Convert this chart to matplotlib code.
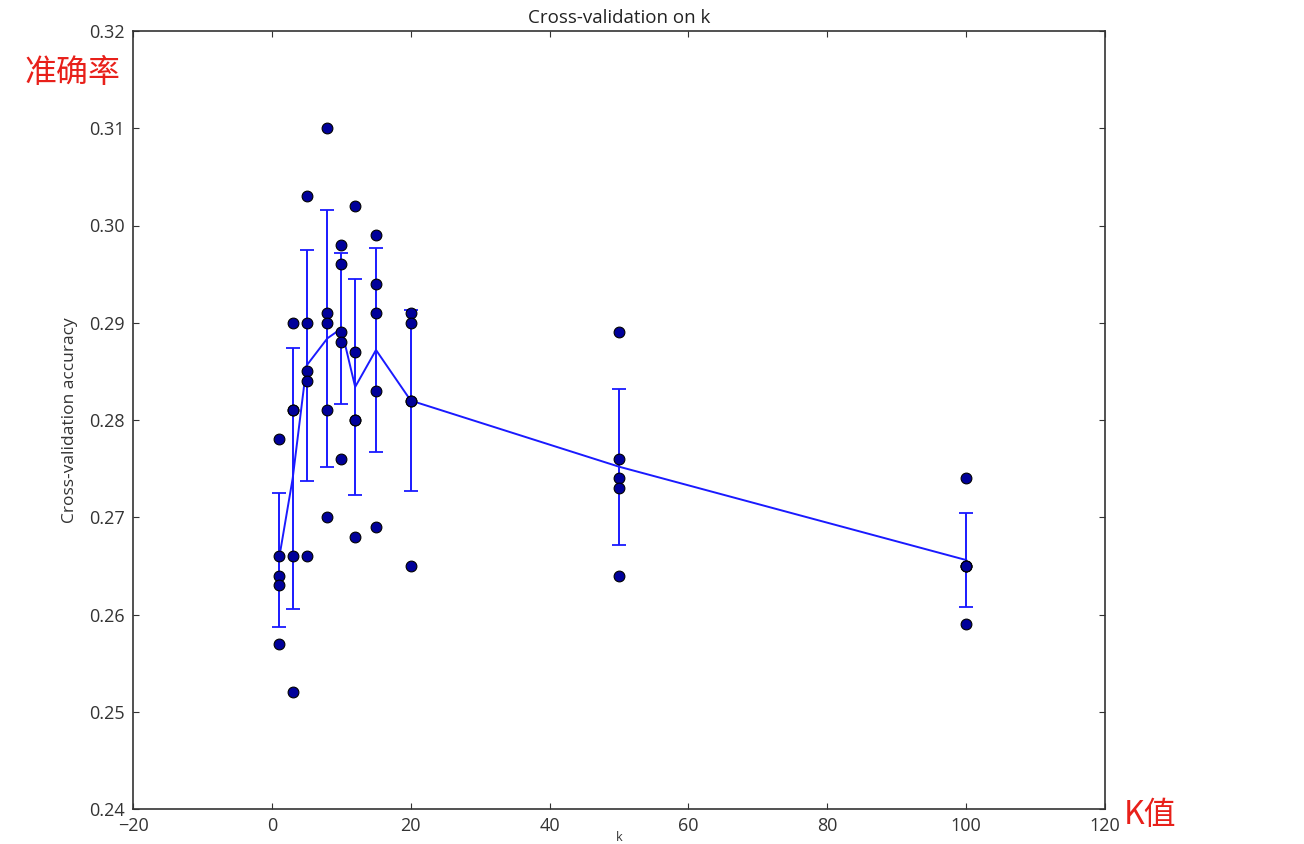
import numpy as np
import matplotlib
matplotlib.use("Agg")
import matplotlib.pyplot as plt

k_choices = [1, 3, 5, 8, 10, 12, 15, 20, 50, 100]
fold_accuracies = {
    1: [0.278, 0.266, 0.264, 0.263, 0.257],
    3: [0.290, 0.281, 0.281, 0.266, 0.252],
    5: [0.303, 0.290, 0.285, 0.284, 0.266],
    8: [0.310, 0.291, 0.290, 0.281, 0.270],
    10: [0.298, 0.296, 0.289, 0.288, 0.276],
    12: [0.302, 0.287, 0.280, 0.280, 0.268],
    15: [0.299, 0.294, 0.291, 0.283, 0.269],
    20: [0.291, 0.290, 0.282, 0.282, 0.265],
    50: [0.289, 0.276, 0.274, 0.273, 0.264],
    100: [0.274, 0.265, 0.265, 0.265, 0.259],
}
x_ticks = [-20, 0, 20, 40, 60, 80, 100, 120]
y_ticks = [0.24, 0.25, 0.26, 0.27, 0.28, 0.29, 0.30, 0.31, 0.32]

plt.rcParams['font.family'] = ['Open Sans', 'DejaVu Sans']
fig = plt.figure(figsize=(13.04, 8.44), dpi=100)
ax = fig.add_axes([133/1304, 35/844, (1105-133)/1304, (809-31)/844])

for k in k_choices:
    acc = fold_accuracies[k]
    ax.scatter([k] * len(acc), acc, s=60, facecolor='#00009a', edgecolor='black',
               linewidths=0.8, zorder=3)

means = np.array([np.mean(fold_accuracies[k]) for k in k_choices])
stds = np.array([np.std(fold_accuracies[k]) for k in k_choices])
ax.errorbar(k_choices, means, yerr=stds, color='#1a1aff', lw=1.4, capsize=5,
            capthick=1.3, zorder=2)

ax.set_xlim(-20, 120)
ax.set_ylim(0.24, 0.32)
ax.set_xticks(x_ticks)
ax.set_yticks(y_ticks)
ax.set_xticklabels([str(v).replace('-', '\u2212') for v in x_ticks])
ax.set_yticklabels(['%.2f' % v for v in y_ticks])
ax.tick_params(direction='in', length=4, top=True, right=True, labelsize=13,
               colors='#333333', pad=6)
for s in ax.spines.values():
    s.set_color('#333333')
    s.set_linewidth(1.2)
ax.set_title('Cross-validation on k', fontsize=13.5, color='#222222', pad=6)
ax.set_ylabel('Cross-validation accuracy', fontsize=12.5, color='#333333', labelpad=8)
ax.set_xlabel('k', fontsize=9, color='#333333')
ax.xaxis.set_label_coords(0.5, -0.0285)

fig.text(24/1304, 1 - 82/844, '准确率', color='#e8201a', fontsize=23,
         family=['Noto Sans CJK SC', 'DejaVu Sans'])
fig.text(1124/1304, 1 - 824/844, 'K值', color='#e8201a', fontsize=23,
         family=['Noto Sans CJK SC', 'DejaVu Sans'])

fig.savefig('out.png', dpi=100)
